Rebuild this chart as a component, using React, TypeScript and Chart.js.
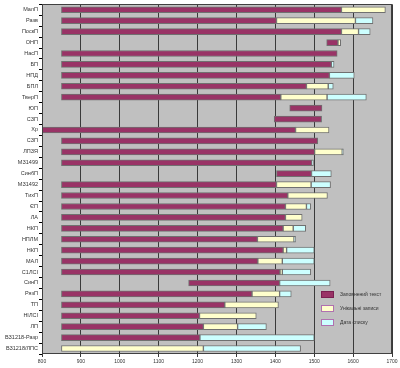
import React, { useEffect, useRef } from "react";
import { Chart, registerables } from "chart.js";

Chart.register(...registerables);

const categories = [
  "МалП", "Разв", "ПоскП", "ОНП", "НасП", "БП", "НПД", "БПЛ", "ТверП", "ЮП", "СЗП",
  "Хр", "СЗП", "ЛПЗЯ", "МЗ1499", "СинбП", "МЗ1492", "ТихП", "ЄП", "ЛА", "НКП",
  "НПЛМ", "НКП", "МАЛ", "С1ЛСІ", "СинП", "РязП", "ТП", "НІЛСІ", "ЛП",
  "ВЗ1218-Разр", "ВЗ1218/ЛПС",
];

const seriesNames = ["Заповнений текст", "Унікальні записи", "Дата списку"];

const filledStart = [850, 850, 850, 1532, 850, 850, 850, 850, 850, 1437, 1397, 800, 850, 850, 850, 1403, 850, 850, 850, 850, 850, 850, 850, 850, 850, 1177, 850, 850, 850, 850, 850, null];
const filledEnd = [1570, 1403, 1570, 1561, 1559, 1544, 1539, 1480, 1414, 1520, 1519, 1452, 1509, 1501, 1494, 1493, 1403, 1432, 1426, 1426, 1420, 1354, 1420, 1355, 1412, 1411, 1340, 1270, 1205, 1215, 1206, null];
const uniqueStart = [1570, 1403, 1570, 1561, null, null, null, 1480, 1414, null, null, 1452, null, 1501, null, null, 1403, 1432, 1426, 1426, 1420, 1354, 1420, 1355, 1412, null, 1340, 1270, 1205, 1215, null, 850];
const uniqueEnd = [1683, 1606, 1614, 1568, null, null, null, 1536, 1533, null, null, 1538, null, 1572, null, null, 1492, 1534, 1480, 1469, 1446, 1448, 1429, 1418, 1418, null, 1411, 1408, 1351, 1303, null, 1215];
const dateStart = [null, 1606, 1614, null, null, 1544, 1539, 1536, 1533, null, null, null, null, 1572, 1494, 1493, 1492, null, 1480, null, 1446, 1448, 1429, 1418, 1418, 1411, 1411, null, null, 1303, 1206, 1215];
const dateEnd = [null, 1651, 1644, null, null, 1551, 1603, 1549, 1634, null, null, null, null, 1575, 1498, 1544, 1542, null, 1491, null, 1478, 1452, 1500, 1500, 1491, 1541, 1441, null, null, 1377, 1500, 1465];

const xMin = 800;
const xMax = 1700;
const xStep = 100;

const colors = ["#993366", "#FFFFCC", "#CCFFFF"];
const FONT = "'Liberation Sans', Arial, sans-serif";

function pairs(a: (number | null)[], b: (number | null)[]) {
  return a.map((s, i) => (s === null || b[i] === null ? null : [s, b[i]]));
}

const plotBg = {
  id: "plotBg",
  beforeDraw(chart: any) {
    const { ctx, chartArea: a } = chart;
    ctx.save();
    ctx.fillStyle = "#C0C0C0";
    ctx.fillRect(a.left, a.top, a.right - a.left, a.bottom - a.top);
    ctx.restore();
  },
  afterDraw(chart: any) {
    const { ctx, chartArea: a } = chart;
    ctx.save();
    ctx.strokeStyle = "#404040";
    ctx.lineWidth = 1;
    ctx.strokeRect(Math.round(a.left) + 0.5, Math.round(a.top) + 0.5, Math.round(a.right - a.left) - 1, Math.round(a.bottom - a.top) - 1);
    // legend
    const boxX = a.right - 71;
    const textX = a.right - 52;
    const tops = [a.bottom - 63, a.bottom - 49, a.bottom - 35];
    const borders = ["#7a2050", "#b070b0", "#b070b0"];
    ctx.font = `5px ${FONT}`;
    ctx.textBaseline = "middle";
    seriesNames.forEach((name, i) => {
      ctx.fillStyle = colors[i];
      ctx.fillRect(boxX, tops[i], 13, 7);
      ctx.strokeStyle = borders[i];
      ctx.strokeRect(boxX + 0.5, tops[i] + 0.5, 12, 6);
      ctx.fillStyle = "#333";
      ctx.fillText(name, textX, tops[i] + 3.5);
    });
    ctx.restore();
  },
};

export default function App() {
  const ref = useRef<HTMLCanvasElement>(null);
  useEffect(() => {
    if (!ref.current) return;
    const mk = (i: number, data: any[]) => ({
      label: seriesNames[i],
      data,
      backgroundColor: colors[i],
      borderColor: "#707070",
      borderWidth: 1,
      borderSkipped: false,
      barThickness: 6,
      grouped: false,
    });
    const chart = new Chart(ref.current, {
      type: "bar",
      data: {
        labels: categories,
        datasets: [
          mk(0, pairs(filledStart, filledEnd)),
          mk(1, pairs(uniqueStart, uniqueEnd)),
          mk(2, pairs(dateStart, dateEnd)),
        ] as any,
      },
      options: {
        indexAxis: "y",
        animation: false,
        responsive: false,
        devicePixelRatio: 1,
        layout: { padding: { top: 2, right: 8, left: 0, bottom: 0 } },
        plugins: { legend: { display: false }, tooltip: { enabled: false } },
        scales: {
          x: {
            min: xMin,
            max: xMax,
            border: { display: false },
            ticks: {
              stepSize: xStep,
              color: "#333",
              font: { size: 5, family: FONT },
              padding: 2,
              callback: (v: any) => String(v),
            },
            grid: { color: "#3a3a3a", lineWidth: 1, tickLength: 3 },
            afterFit: (s: any) => { s.height = 14; },
          },
          y: {
            border: { display: false },
            ticks: { color: "#333", font: { size: 5.5, family: FONT }, padding: 1, autoSkip: false },
            grid: { drawOnChartArea: false, tickLength: 3, color: "#000" },
            afterFit: (s: any) => { s.width = 42; },
          },
        },
      } as any,
      plugins: [plotBg],
    });
    return () => chart.destroy();
  }, []);
  return (
    <div style={{ position: "absolute", left: 0, top: 0, width: 400, height: 368, background: "#fff" }}>
      <canvas ref={ref} width={400} height={368} style={{ display: "block" }} />
    </div>
  );
}
